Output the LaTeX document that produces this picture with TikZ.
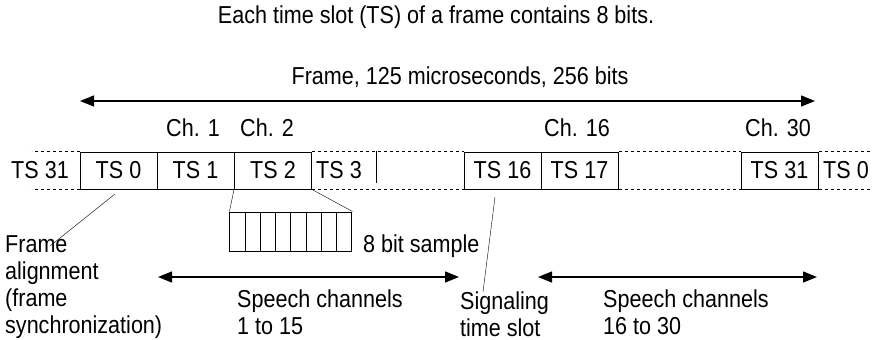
\documentclass[tikz,border=0pt]{standalone}
\usepackage{fontspec}
\setmainfont{Liberation Sans}[FakeStretch=0.88]
\usetikzlibrary{arrows.meta}
\tikzset{
  slot/.style={draw, line width=1pt, minimum width=77pt, minimum height=37pt, inner sep=0pt},
  bitcell/.style={draw, line width=1pt, minimum width=15.25pt, minimum height=39pt, inner sep=0pt},
  dots/.style={line width=1pt, dash pattern=on 3pt off 3pt},
  span/.style={line width=1.3pt, {Triangle[length=14pt,width=11pt]}-{Triangle[length=14pt,width=11pt]}},
  lbl/.style={inner sep=0pt},
  note/.style={inner sep=0pt, align=left, anchor=base west},
}
\begin{document}
\begin{tikzpicture}[x=1pt,y=-1pt,font=\fontsize{24.5}{27}\selectfont]
    \useasboundingbox (0,0) rectangle (873,340);
    %headings
    \node[lbl] (title) at (436,17) {Each time slot (TS) of a frame contains 8 bits.};
    \node[lbl] (framelbl) at (460,77) {Frame, 125 microseconds, 256 bits};
    \coordinate (fl) at (80,101);
    \coordinate (fr) at (815,101);
    \draw[span] (fl) -- (fr);
    %time slots
    \node[slot] (ts0) at (118.5,170.5) {TS 0};
    \node[slot] (ts1) at (195.5,170.5) {TS 1};
    \node[slot] (ts2) at (273,170.5) {TS 2};
    \node[slot] (ts16) at (502.5,170.5) {TS 16};
    \node[slot] (ts17) at (579.5,170.5) {TS 17};
    \node[slot] (ts31) at (779.5,170.5) {TS 31};
    \node[lbl] (prev) at (40,170.5) {TS 31};
    \node[lbl] (ts3) at (339,170.5) {TS 3};
    \node[lbl] (next) at (846,170.5) {TS 0};
    \draw[line width=1pt] (376,151) -- (376,183);
    %channel labels
    \node[lbl] (ch1) at (193,128) {Ch. 1};
    \node[lbl] (ch2) at (267,128) {Ch. 2};
    \node[lbl] (ch16) at (577,128) {Ch. 16};
    \node[lbl] (ch30) at (778,128) {Ch. 30};
    %dotted frame edges
    \draw[dots] (ts0.north west) -- ++(-48,0);
    \draw[dots] (ts0.south west) -- ++(-48,0);
    \draw[dots] (ts2.north east) -- (ts16.north west);
    \draw[dots] (ts2.south east) -- (ts16.south west);
    \draw[dots] (ts17.north east) -- (ts31.north west);
    \draw[dots] (ts17.south east) -- (ts31.south west);
    \draw[dots] (ts31.north east) -- ++(52,0);
    \draw[dots] (ts31.south east) -- ++(52,0);
    %8 bit sample
    \foreach \i in {0,...,7}
      \node[bitcell] (b\i) at (237.6+15.25*\i,231.5) {};
    \draw (ts2.south west) -- (b0.north west);
    \draw (ts2.south east) -- (b7.north east);
    \node[note] (sample) at (363,252) {8 bit sample};
    %notes below
    \node[note] (align) at (5,333) {Frame\\alignment\\(frame\\synchronization)};
    \coordinate (fa) at (115,194);
    \coordinate (fb) at (50,246);
    \draw (fa) -- (fb);
    \node[note] (sp1) at (237,334) {Speech channels\\1 to 15};
    \node[note] (sig) at (460,336) {Signaling\\time slot};
    \coordinate (sa) at (495,197);
    \coordinate (sb) at (483,292);
    \draw (sa) -- (sb);
    \node[note] (sp2) at (603,334) {Speech channels\\16 to 30};
    \coordinate (al) at (158,277);
    \coordinate (ar) at (459,277);
    \draw[span] (al) -- (ar);
    \coordinate (bl) at (538,277);
    \coordinate (br) at (817,277);
    \draw[span] (bl) -- (br);
\end{tikzpicture}
\end{document}
